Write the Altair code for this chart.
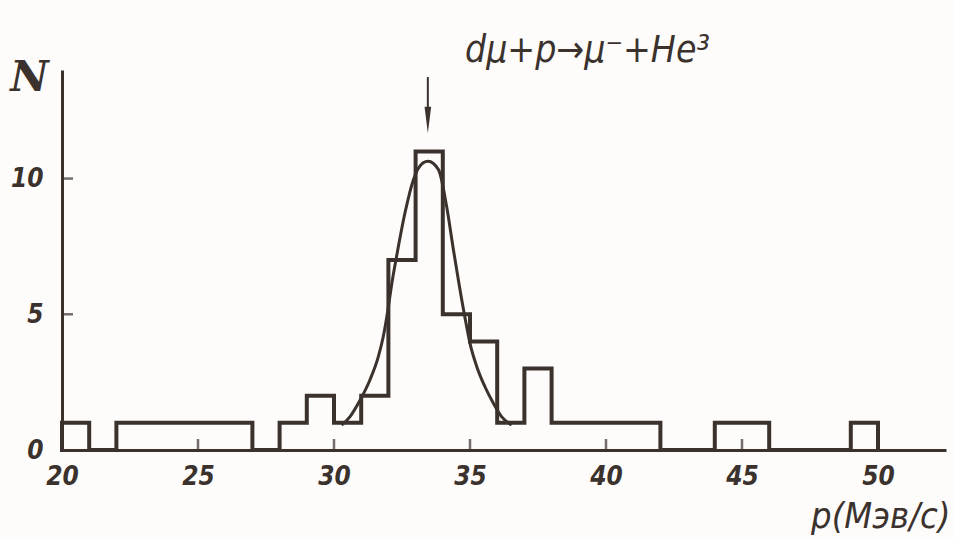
import altair as alt
import pandas as pd

# ---- data ----
bin_left = list(range(20, 50))
counts = [1, 0, 1, 1, 1, 1, 1, 0, 1, 2, 1, 2, 7, 11, 5, 4, 1, 3, 1, 1, 1, 1, 0, 0, 1, 1, 0, 0, 0, 1]
bin_end = 50

curve_x = [30.28, 30.59, 30.96, 31.32, 31.63, 31.81, 32.00, 32.12, 32.30, 32.61, 32.92, 33.28, 33.46,
           33.84, 34.14, 34.39, 34.60, 34.82, 35.00, 35.25, 35.55, 35.86, 36.16, 36.53]
curve_y = [0.92, 1.23, 1.84, 2.58, 3.44, 4.17, 5.28, 6.10, 7.13, 8.74, 9.96, 10.58, 10.64,
           10.33, 8.98, 7.38, 6.10, 4.85, 3.93, 3.07, 2.33, 1.72, 1.23, 0.92]

x_labels = [20, 25, 30, 35, 40, 45, 50]
y_labels = [0, 5, 10]
x_ticks = [25, 30, 35, 40, 45, 50]
y_ticks = [5, 10]

arrow_x = [33.45]
arrow_top = [13.74]
arrow_head = [12.16]

reaction = "dμ+p→μ⁻+He³"
x_title = "p(Мэв/с)"
y_title = "N"

# ---- tables ----
hx = [bin_left[0]] + bin_left + [bin_end]
hy = [0] + counts + [0]
hist = pd.DataFrame({"x": hx, "y": hy, "i": list(range(len(hx)))})
curve = pd.DataFrame({"x": curve_x, "y": curve_y})
xt = pd.DataFrame({"x": x_ticks})
yt = pd.DataFrame({"y": y_ticks})
arrow = pd.DataFrame({"x": arrow_x, "y": arrow_top, "y2": arrow_head})

INK = "#3b322e"
BG = "#fdfcfa"
FONT = "DejaVu Sans Condensed, DejaVu Sans"

xscale = alt.Scale(domain=[20, 52.5], nice=False, zero=False)
yscale = alt.Scale(domain=[0, 14], nice=False)

xaxis = alt.Axis(values=x_labels, ticks=False, tickSize=0, grid=False,
                 domainColor=INK, domainWidth=3, labelColor=INK,
                 labelFont=FONT, labelFontSize=26, labelFontStyle="italic", labelFontWeight="bold",
                 labelPadding=13, labelFlush=False,
                 title=x_title, titleFont=FONT, titleFontSize=36,
                 titleFontStyle="italic", titleFontWeight="normal", titleColor=INK,
                 titleAnchor="end", titleAlign="right", titleBaseline="alphabetic",
                 titleX=888, titleY=77)
yaxis = alt.Axis(values=y_labels, ticks=False, tickSize=0, grid=False,
                 domainColor=INK, domainWidth=3, labelColor=INK,
                 labelFont=FONT, labelFontSize=26, labelFontStyle="italic", labelFontWeight="bold",
                 labelPadding=19, labelBaseline="middle",
                 title=y_title, titleFont="DejaVu Serif", titleFontSize=42,
                 titleFontStyle="italic", titleFontWeight="bold", titleColor=INK,
                 titleAngle=0, titleAlign="center", titleBaseline="alphabetic",
                 titleX=-33, titleY=20)

hist_line = alt.Chart(hist).mark_line(
    interpolate="step-after", color=INK, strokeWidth=4, strokeJoin="miter", strokeCap="square"
).encode(
    x=alt.X("x:Q", scale=xscale, axis=xaxis),
    y=alt.Y("y:Q", scale=yscale, axis=yaxis),
    order="i:Q",
)

curve_line = alt.Chart(curve).mark_line(
    interpolate="monotone", color=INK, strokeWidth=3
).encode(x="x:Q", y="y:Q")

xtick = alt.Chart(xt).mark_tick(orient="vertical", color=INK, size=11, thickness=2.5, yOffset=-5.5).encode(
    x="x:Q", y=alt.datum(0)
)
ytick = alt.Chart(yt).mark_tick(orient="horizontal", color=INK, size=11, thickness=2.5, xOffset=5.5).encode(
    y="y:Q", x=alt.datum(20)
)

arrow_shaft = alt.Chart(arrow).mark_rule(color=INK, strokeWidth=2).encode(
    x="x:Q", y="y:Q", y2="y2:Q"
)
arrow_tip = alt.Chart(arrow).mark_point(
    shape="M-0.25,-1L0.25,-1L0,1Z", size=700, filled=True, color=INK, opacity=1
).encode(x="x:Q", y="y2:Q")

title_text = alt.Chart(pd.DataFrame({"t": [reaction]})).mark_text(
    font=FONT, fontSize=37, fontStyle="italic", color=INK, align="left", baseline="alphabetic"
).encode(text="t:N", x=alt.value(403), y=alt.value(-8))

chart = alt.layer(
    hist_line, curve_line, xtick, ytick, arrow_shaft, arrow_tip, title_text
).properties(
    width=884, height=380,
    padding={"left": 62, "top": 70, "right": 8, "bottom": 89},
    autosize=alt.AutoSizeParams(type="none"),
    background=BG,
).configure_view(stroke=None)

chart.save("out.html", embed_options={"renderer": "svg", "actions": False})
